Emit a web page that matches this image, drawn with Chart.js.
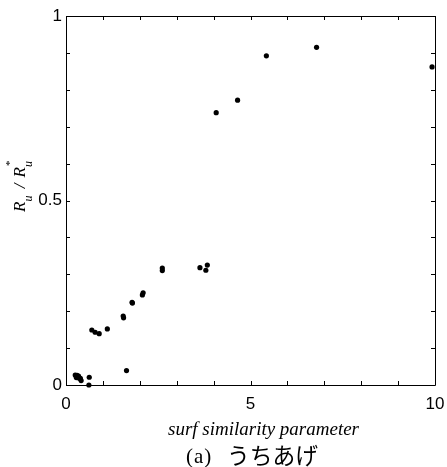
<!DOCTYPE html>
<html>
<head>
<meta charset="utf-8">
<script src="https://cdn.jsdelivr.net/npm/chart.js@4/dist/chart.umd.min.js"></script>
<style>
html,body{margin:0;padding:0;background:#fff;}
canvas{display:block;}
</style>
</head>
<body>
<canvas id="c" width="447" height="467"></canvas>
<script>
// surf similarity parameter (x) and Ru/Ru* (y)
const surfSimilarity = [0.25,0.30,0.34,0.28,0.36,0.39,0.41,0.63,0.62,0.70,0.79,0.90,1.12,1.55,1.56,1.64,1.79,1.80,2.07,2.09,2.61,2.61,3.63,3.79,3.83,4.07,4.65,5.43,6.79,9.92];
const runupRatio     = [0.027,0.026,0.024,0.020,0.018,0.018,0.012,0.021,0.000,0.149,0.143,0.139,0.152,0.187,0.182,0.039,0.224,0.222,0.244,0.250,0.317,0.310,0.318,0.311,0.325,0.738,0.772,0.892,0.915,0.862];
const xTickLabels = [0, 5, 10];
const yTickLabels = [0, 0.5, 1];
const xTitle = 'surf similarity parameter';
const captionLabel = '(a)';
const captionText = 'うちあげ';

const points = surfSimilarity.map((x, i) => ({x: x, y: runupRatio[i]}));

function fitText(ctx, txt, font, x, y, w) {
  ctx.save();
  ctx.font = font;
  const m = ctx.measureText(txt).width;
  ctx.translate(x, y);
  ctx.scale(w / m, 1);
  ctx.textAlign = 'left';
  ctx.fillText(txt, 0, 0);
  ctx.restore();
}
function spacedText(ctx, txt, font, x, y, gap) {
  ctx.save();
  ctx.font = font;
  ctx.textAlign = 'left';
  for (const ch of txt) {
    ctx.fillText(ch, x, y);
    x += ctx.measureText(ch).width + gap;
  }
  ctx.restore();
}

const frame = {
  id: 'frame',
  afterDatasetsDraw(chart) {
    const ctx = chart.ctx, a = chart.chartArea;
    const xs = chart.scales.x, ys = chart.scales.y;
    ctx.save();
    ctx.strokeStyle = '#000';
    ctx.lineWidth = 1;
    ctx.beginPath();
    ctx.rect(Math.round(a.left) + 0.5, Math.round(a.top) + 0.5, Math.round(a.right - a.left), Math.round(a.bottom - a.top));
    ctx.stroke();
    const tl = 4;
    ctx.beginPath();
    xs.ticks.forEach(t => {
      const p = Math.round(xs.getPixelForValue(t.value)) + 0.5;
      ctx.moveTo(p, a.bottom); ctx.lineTo(p, a.bottom - tl);
      ctx.moveTo(p, a.top); ctx.lineTo(p, a.top + tl);
    });
    ys.ticks.forEach(t => {
      const p = Math.round(ys.getPixelForValue(t.value)) + 0.5;
      ctx.moveTo(a.left, p); ctx.lineTo(a.left + tl, p);
      ctx.moveTo(a.right, p); ctx.lineTo(a.right - tl, p);
    });
    ctx.stroke();

    // x title
    ctx.fillStyle = '#000';
    ctx.textBaseline = 'alphabetic';
    fitText(ctx, xTitle, 'italic 18px "Liberation Serif", serif', 168, 435, 191);

    // caption
    spacedText(ctx, captionLabel, '21px "Liberation Serif", serif', 186, 463, 1);
    fitText(ctx, captionText, '23px "Noto Sans CJK JP", sans-serif', 227, 464, 91);

    // y title: R_u / R_u^*
    ctx.translate(25, 212);
    ctx.rotate(-Math.PI / 2);
    const big = 'italic 17px "Liberation Serif", serif';
    const small = 'italic 12px "Liberation Serif", serif';
    let x = 0;
    const seg = (txt, font, dy) => {
      ctx.font = font;
      ctx.fillText(txt, x, dy);
      x += ctx.measureText(txt).width;
    };
    seg('R', big, 0);
    seg('u', small, 7);
    x += 3;
    seg(' / ', big, 0);
    x += 2;
    seg('R', big, 0);
    const xr = x;
    seg('u', small, 7);
    x = xr + 1;
    seg('*', '11px "Liberation Serif", serif', -12);
    ctx.restore();
  }
};

new Chart(document.getElementById('c'), {
  type: 'scatter',
  data: {
    datasets: [{
      data: points,
      backgroundColor: '#000',
      borderColor: '#000',
      borderWidth: 0,
      pointRadius: 2.6,
      pointHoverRadius: 2.6,
      clip: false
    }]
  },
  options: {
    responsive: false,
    animation: false,
    devicePixelRatio: 1,
    layout: {padding: {top: 16, right: 12, left: 0, bottom: 0}},
    plugins: {legend: {display: false}, tooltip: {enabled: false}},
    scales: {
      x: {
        type: 'linear', min: 0, max: 10,
        afterFit: s => { s.height = 82; s.paddingLeft = 0; s.paddingRight = 0; },
        grid: {display: false, drawTicks: false},
        border: {display: false},
        ticks: {
          stepSize: 1, padding: 9, color: '#000', maxRotation: 0, autoSkip: false,
          font: {family: '"Liberation Sans", Arial, sans-serif', size: 17},
          callback: v => xTickLabels.some(t => Math.abs(t - v) < 1e-6) ? String(v) : ''
        }
      },
      y: {
        type: 'linear', min: 0, max: 1,
        afterFit: s => { s.width = 66; s.paddingTop = 0; s.paddingBottom = 0; },
        grid: {display: false, drawTicks: false},
        border: {display: false},
        ticks: {
          stepSize: 0.1, padding: 4, color: '#000', autoSkip: false,
          font: {family: '"Liberation Sans", Arial, sans-serif', size: 17},
          callback: v => yTickLabels.some(t => Math.abs(t - v) < 1e-6) ? String(Math.round(v * 10) / 10) : ''
        }
      }
    }
  },
  plugins: [frame]
});
</script>
</body>
</html>
